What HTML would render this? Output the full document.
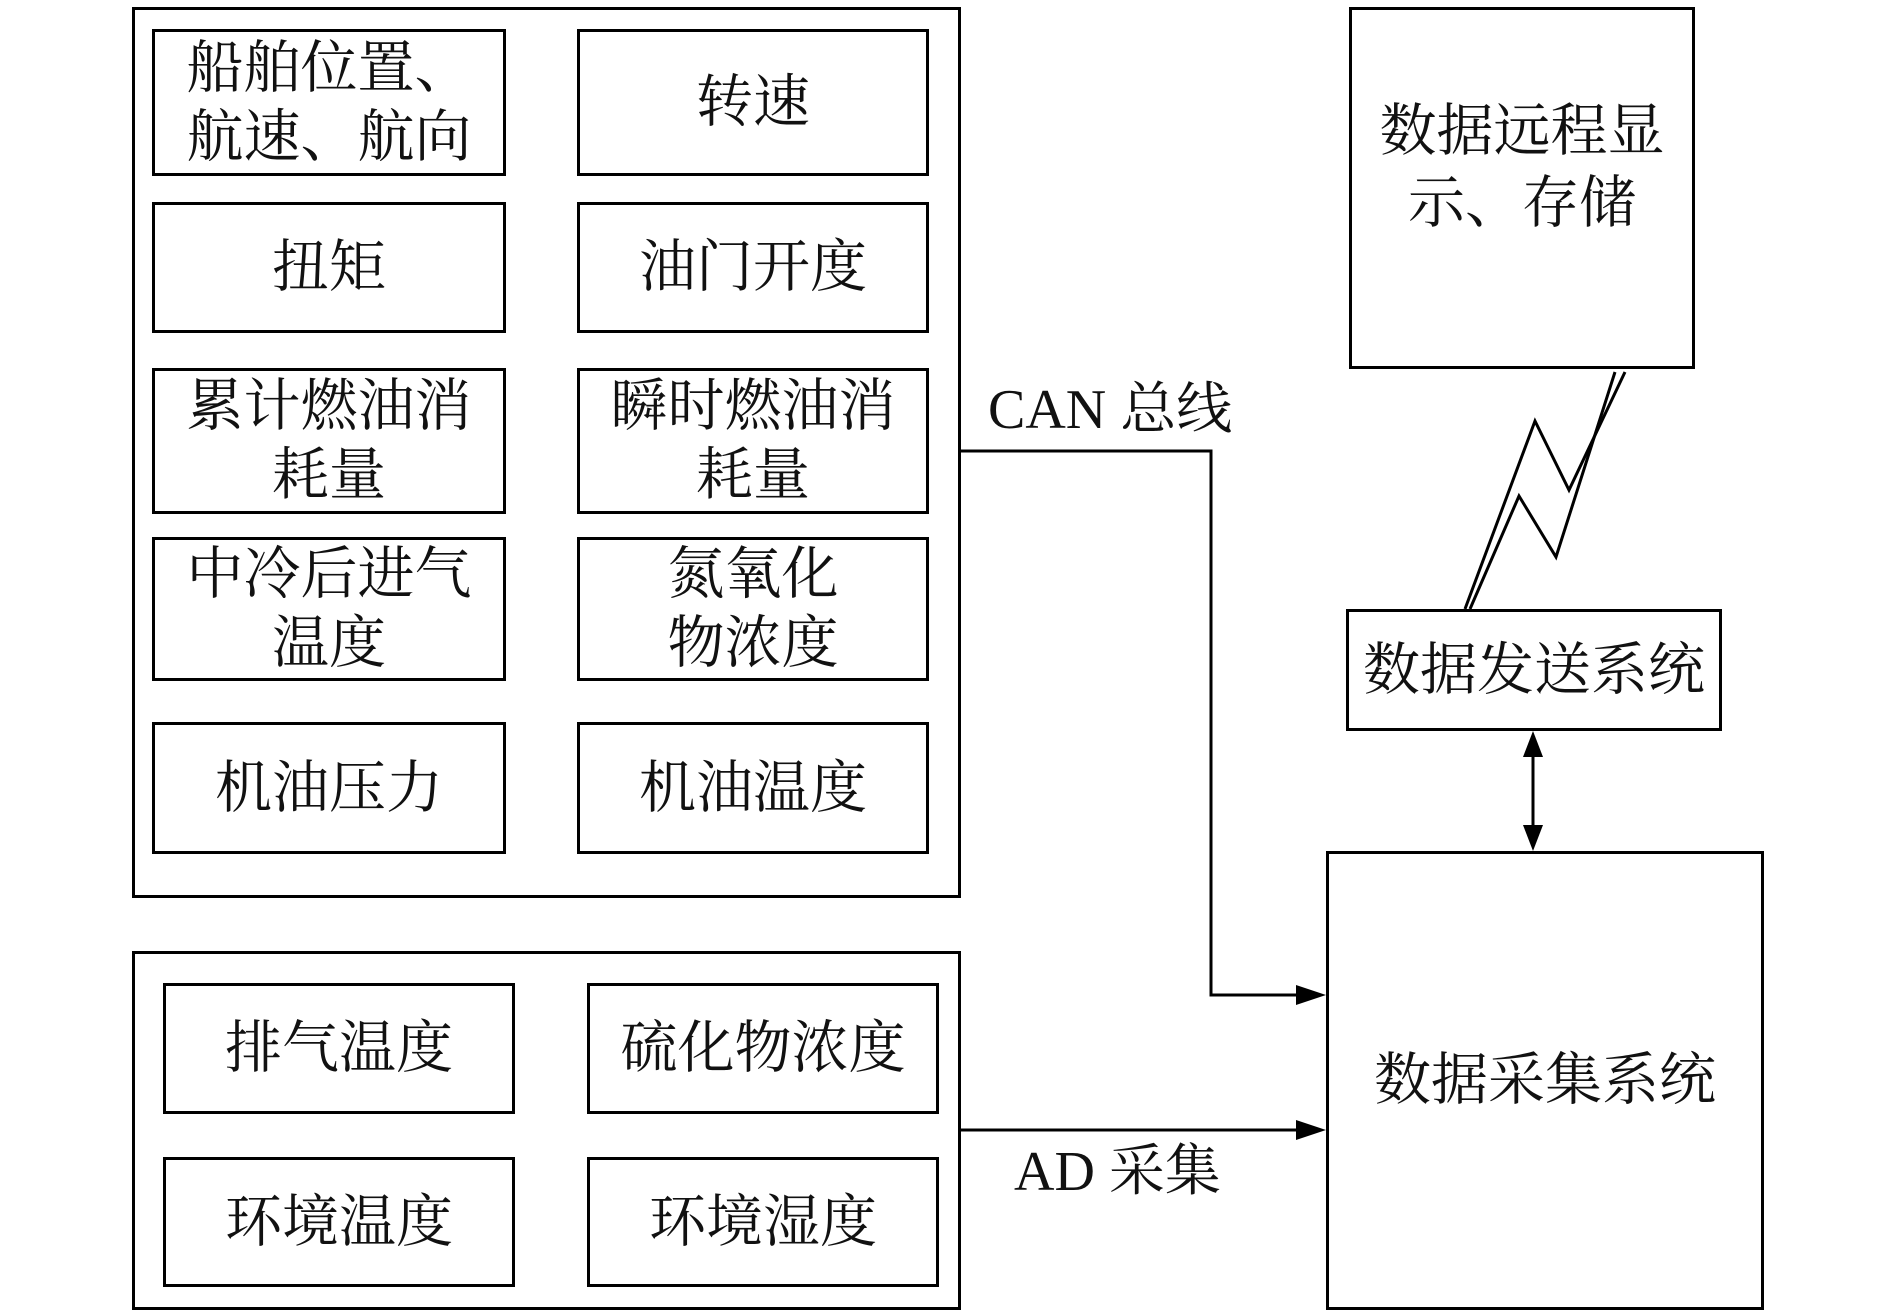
<!DOCTYPE html>
<html><head><meta charset="utf-8"><style>
html,body{margin:0;padding:0;background:#fff;}
body{width:1890px;height:1313px;position:relative;overflow:hidden;font-family:"Liberation Serif","Noto Serif CJK SC",serif;}
.b{position:absolute;border:3px solid #000;box-sizing:border-box;display:flex;align-items:center;justify-content:center;text-align:center;font-size:57px;line-height:69px;color:#111;}
.t{position:absolute;font-size:56px;color:#111;white-space:nowrap;line-height:1;}
</style></head><body>
<div class="b" style="left:132px;top:7px;width:829px;height:891px;"></div>
<div class="b" style="left:152px;top:29px;width:354px;height:147px;">船舶位置、<br>航速、航向</div>
<div class="b" style="left:577px;top:29px;width:352px;height:147px;">转速</div>
<div class="b" style="left:152px;top:202px;width:354px;height:131px;">扭矩</div>
<div class="b" style="left:577px;top:202px;width:352px;height:131px;">油门开度</div>
<div class="b" style="left:152px;top:368px;width:354px;height:146px;">累计燃油消<br>耗量</div>
<div class="b" style="left:577px;top:368px;width:352px;height:146px;">瞬时燃油消<br>耗量</div>
<div class="b" style="left:152px;top:537px;width:354px;height:144px;">中冷后进气<br>温度</div>
<div class="b" style="left:577px;top:537px;width:352px;height:144px;">氮氧化<br>物浓度</div>
<div class="b" style="left:152px;top:722px;width:354px;height:132px;">机油压力</div>
<div class="b" style="left:577px;top:722px;width:352px;height:132px;">机油温度</div>

<div class="b" style="left:132px;top:951px;width:829px;height:359px;"></div>
<div class="b" style="left:163px;top:983px;width:352px;height:131px;">排气温度</div>
<div class="b" style="left:587px;top:983px;width:352px;height:131px;">硫化物浓度</div>
<div class="b" style="left:163px;top:1157px;width:352px;height:130px;">环境温度</div>
<div class="b" style="left:587px;top:1157px;width:352px;height:130px;">环境湿度</div>

<div class="b" style="left:1349px;top:7px;width:346px;height:362px;padding-bottom:40px;line-height:72px;">数据远程显<br>示、存储</div>
<div class="b" style="left:1346px;top:609px;width:376px;height:122px;">数据发送系统</div>
<div class="b" style="left:1326px;top:851px;width:438px;height:459px;">数据采集系统</div>

<div class="t" style="left:988px;top:382px;">CAN 总线</div>
<div class="t" style="left:1014px;top:1144px;">AD 采集</div>

<svg width="1890" height="1313" style="position:absolute;left:0;top:0;" xmlns="http://www.w3.org/2000/svg">
<g stroke="#000" stroke-width="3" fill="none">
<polyline points="960,451 1211,451 1211,995 1300,995"/>
<line x1="960" y1="1130" x2="1300" y2="1130"/>
<line x1="1533" y1="755" x2="1533" y2="827"/>
<polyline points="1465,609 1535,421 1569,490 1625,372"/>
<polyline points="1470,609 1519,496 1556,557 1615,372"/>
</g>
<g fill="#000">
<polygon points="1326,995 1296,985 1296,1005"/>
<polygon points="1326,1130 1296,1120 1296,1140"/>
<polygon points="1533,731 1523,757 1543,757"/>
<polygon points="1533,851 1523,825 1543,825"/>
</g>
</svg>
</body></html>
